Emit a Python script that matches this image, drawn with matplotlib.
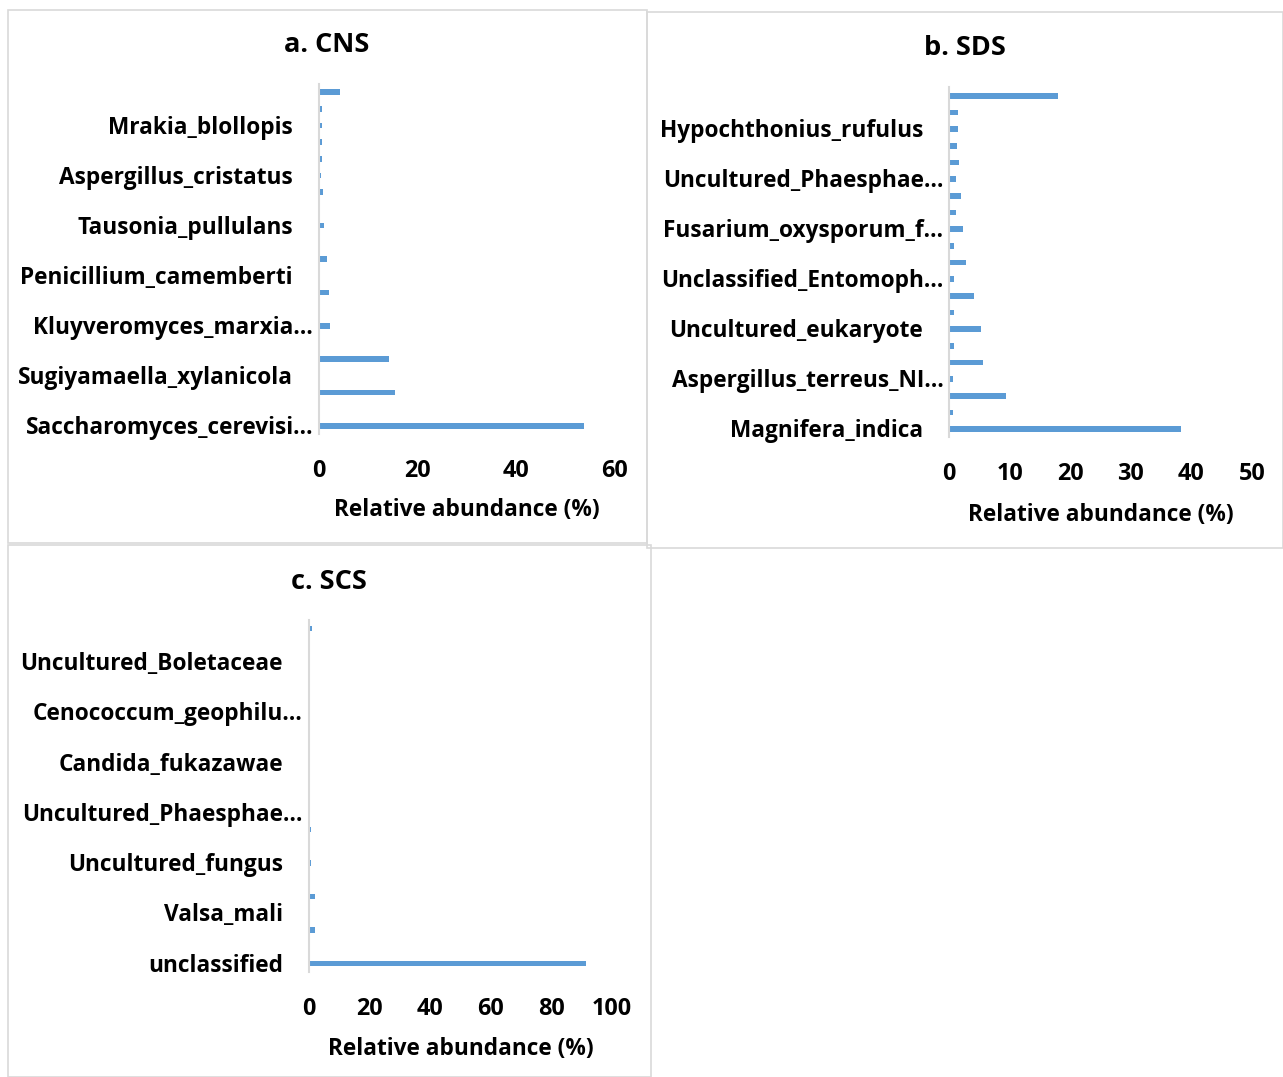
import matplotlib
matplotlib.use("Agg")
import matplotlib.pyplot as plt
from matplotlib.patches import Rectangle
import matplotlib.transforms as mtransforms

plt.rcParams['font.family'] = ['Open Sans', 'DejaVu Sans']
plt.rcParams['font.weight'] = 'bold'

# ---- data (bottom to top, 21 categories per panel; only every 3rd label shown) ----
cns_labels = ["Saccharomyces_cerevisi…", "Sugiyamaella_xylanicola", "Kluyveromyces_marxia…",
              "Penicillium_camemberti", "Tausonia_pullulans", "Aspergillus_cristatus",
              "Mrakia_blollopis"]
cns_values = [53.7, 0.1, 15.4, 0.1, 14.1, 0.1, 2.3, 0.1, 2.0, 0.1, 1.6, 0.1,
              1.1, 0.3, 0.9, 0.4, 0.7, 0.6, 0.7, 0.6, 4.3]

sds_labels = ["Magnifera_indica", "Aspergillus_terreus_NI…", "Uncultured_eukaryote",
              "Unclassified_Entomoph…", "Fusarium_oxysporum_f…", "Uncultured_Phaesphae…",
              "Hypochthonius_rufulus"]
sds_values = [38.3, 0.55, 9.3, 0.6, 5.5, 0.7, 5.3, 0.7, 4.1, 0.7, 2.7, 0.7,
              2.3, 1.05, 2.0, 1.1, 1.65, 1.2, 1.45, 1.4, 17.9]

scs_labels = ["unclassified", "Valsa_mali", "Uncultured_fungus", "Uncultured_Phaesphae…",
              "Candida_fukazawae", "Cenococcum_geophilu…", "Uncultured_Boletaceae"]
scs_values = [91.5, 0.05, 2.1, 0.1, 1.9, 0.1, 0.75, 0.1, 0.6, 0.1, 0.15, 0.1,
              0.15, 0.1, 0.15, 0.1, 0.15, 0.1, 0.15, 0.1, 0.9]

W, H = 1283, 1077
fig = plt.figure(figsize=(W / 100, H / 100), dpi=100)

def fx(x):
    return x / W

def fy(y):
    return 1 - y / H

BLUE = "#5B9BD5"
GRID = "#D9D9D9"
FS = 16.3

# panel frames
for (x0, y0, x1, y1) in [(8, 10, 647, 543), (647, 12, 1283, 548), (8, 545, 651, 1077)]:
    fig.add_artist(Rectangle((fx(x0), fy(y1)), fx(x1) - fx(x0), fy(y0) - fy(y1),
                             transform=fig.transFigure, fill=False,
                             edgecolor=GRID, linewidth=1.2))

panels = [
    dict(values=cns_values, labels=cns_labels, box=(319, 83.7, 615, 434.4), xmax=60,
         xticks=[0, 20, 40, 60], title="a. CNS", title_xy=(327, 45), xlabel_y=510,
         trunc_gap=6),
    dict(values=sds_values, labels=sds_labels, box=(949.3, 87.4, 1252, 437.4), xmax=50,
         xticks=[0, 10, 20, 30, 40, 50], title="b. SDS", title_xy=(965, 48), xlabel_y=515,
         trunc_gap=6),
    dict(values=scs_values, labels=scs_labels, box=(309, 620, 612, 972), xmax=100,
         xticks=[0, 20, 40, 60, 80, 100], title="c. SCS", title_xy=(329, 582), xlabel_y=1049,
         trunc_gap=7),
]

for p in panels:
    x0, y0, x1, y1 = p["box"]
    ax = fig.add_axes([fx(x0), fy(y1), fx(x1) - fx(x0), fy(y0) - fy(y1)])
    n = len(p["values"])
    pos = list(range(n))
    ax.barh(pos, p["values"], height=0.34, color=BLUE)
    ax.set_xlim(0, p["xmax"])
    ax.set_ylim(-0.5, n - 0.5)
    for s in ["top", "right", "bottom"]:
        ax.spines[s].set_visible(False)
    ax.spines["left"].set_color(GRID)
    ax.spines["left"].set_linewidth(1.5)
    ax.set_xticks(p["xticks"])
    ax.set_xticklabels([str(t) for t in p["xticks"]], fontsize=FS + 0.5, fontweight="bold")
    ax.tick_params(axis="x", length=0, pad=18)
    ax.set_yticks([])
    # category labels (every 3rd category)
    for i, lab in enumerate(p["labels"]):
        gap = p["trunc_gap"] if lab.endswith("…") else 26
        off = mtransforms.offset_copy(ax.get_yaxis_transform(), fig=fig,
                                      x=-gap * 72 / 100, y=-1.5, units="points")
        ax.text(0, pos[3 * i], lab, transform=off, ha="right", va="center",
                fontsize=FS, fontweight="bold", color="black")
    ax.set_xlabel("Relative abundance (%)", fontsize=FS, fontweight="bold")
    ax.xaxis.set_label_coords(0.5, 0, transform=mtransforms.blended_transform_factory(
        ax.transAxes, fig.transFigure))
    ax.xaxis.label.set_position((0.5, fy(p["xlabel_y"])))
    ax.xaxis.label.set_verticalalignment("center")
    tx, ty = p["title_xy"]
    fig.text(fx(tx), fy(ty), p["title"], ha="center", va="center",
             fontsize=19.5, fontweight="bold")

fig.savefig("out.png", dpi=100)
